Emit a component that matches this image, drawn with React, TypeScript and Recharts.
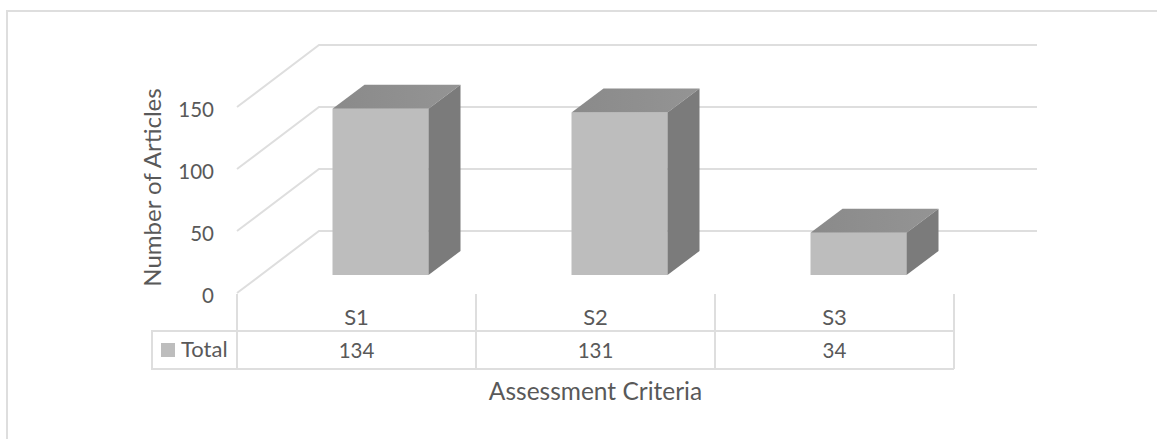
import { Bar, BarChart, CartesianGrid, Label, XAxis, YAxis } from 'recharts';

const categories = ['S1', 'S2', 'S3'];
const totals = [134, 131, 34];
const valueTicks = [0, 50, 100, 150];
const seriesName = 'Total';

const rows = categories.map((name, i) => ({ name, total: totals[i] }));

const WIDTH = 1157;
const HEIGHT = 439;
const FONT = 'Lato, "Open Sans", sans-serif';
const TEXT = '#595959';
const LINE = '#dedede';

// table under the plot
const CELL_W = 239;
const FLOOR_Y = 293;
const TABLE_TOP = 331;
const TABLE_BOTTOM = 369;
const KEY_LEFT = 152;

// floor and back wall projection
const WALL_DX = 82;
const WALL_DY = 62;
const WALL_RIGHT = 1037;

// where a box stands on the floor, and how deep it is
const BOX_DX = 23.5;
const BOX_DY = 18;
const DEPTH_X = 32;
const DEPTH_Y = 24;

function WallLine(props: any) {
  const { x1, y1 } = props;
  const backX = x1 + WALL_DX;
  const backY = y1 - WALL_DY;
  return (
    <path
      key={`wall-${y1}`}
      d={`M${x1},${y1} L${backX},${backY} L${WALL_RIGHT},${backY}`}
      fill="none"
      stroke={LINE}
      strokeWidth={2}
    />
  );
}

function Box(props: any) {
  const { width, height } = props;
  const x = props.x + BOX_DX;
  const y = props.y - BOX_DY;
  const right = x + width;
  const bottom = y + height;
  return (
    <g>
      <rect x={x} y={y} width={width} height={height} fill="#bdbdbd" />
      <polygon
        points={`${x},${y} ${x + DEPTH_X},${y - DEPTH_Y} ${right + DEPTH_X},${y - DEPTH_Y} ${right},${y}`}
        fill="url(#boxTop)"
      />
      <polygon
        points={`${right},${y} ${right + DEPTH_X},${y - DEPTH_Y} ${right + DEPTH_X},${bottom - DEPTH_Y} ${right},${bottom}`}
        fill="#7b7b7b"
      />
    </g>
  );
}

function TableCell(props: any) {
  const { x, index, payload } = props;
  const left = x - CELL_W / 2;
  const right = x + CELL_W / 2;
  const labelStyle = { fontFamily: FONT, fontSize: 22, fill: TEXT };
  const numberStyle = { fontFamily: FONT, fontSize: 20.5, fill: TEXT };
  return (
    <g>
      {index === 0 && (
        <g>
          <line x1={left} y1={FLOOR_Y + 1} x2={left} y2={TABLE_BOTTOM} stroke={LINE} strokeWidth={2} />
          <path
            d={`M${left},${TABLE_TOP} L${KEY_LEFT},${TABLE_TOP} L${KEY_LEFT},${TABLE_BOTTOM} L${left},${TABLE_BOTTOM}`}
            fill="none"
            stroke={LINE}
            strokeWidth={2}
          />
          <rect x={left - 76} y={343} width={14} height={14} fill="#bdbdbd" />
          <text x={left - 56} y={357} {...labelStyle}>
            {seriesName}
          </text>
        </g>
      )}
      <line x1={right} y1={FLOOR_Y + 1} x2={right} y2={TABLE_BOTTOM} stroke={LINE} strokeWidth={2} />
      <line x1={left} y1={TABLE_TOP} x2={right} y2={TABLE_TOP} stroke={LINE} strokeWidth={2} />
      <line x1={left} y1={TABLE_BOTTOM} x2={right} y2={TABLE_BOTTOM} stroke={LINE} strokeWidth={2} />
      <text x={x} y={325} textAnchor="middle" {...labelStyle}>
        {payload.value}
      </text>
      <text x={x} y={358} textAnchor="middle" {...numberStyle}>
        {totals[index]}
      </text>
    </g>
  );
}

// rotated title beside the value axis
function ValueTitle() {
  return (
    <text
      transform="translate(161,187.5) rotate(-90)"
      textAnchor="middle"
      fontFamily={FONT}
      fontSize={24}
      fill={TEXT}
    >
      Number of Articles
    </text>
  );
}

export default function App() {
  return (
    <div style={{ position: 'absolute', left: 0, top: 0, width: WIDTH, height: HEIGHT, background: '#fff', overflow: 'hidden' }}>
      <div
        style={{
          position: 'absolute',
          left: 6,
          top: 10,
          right: 0,
          bottom: 0,
          borderLeft: `2px solid ${LINE}`,
          borderTop: `2px solid ${LINE}`,
        }}
      />
      <BarChart
        width={WIDTH}
        height={HEIGHT}
        data={rows}
        margin={{ top: 107, right: 203, bottom: 0, left: 0 }}
        style={{ position: 'absolute', left: 0, top: 0 }}
      >
        <defs>
          <linearGradient id="boxTop" x1="0" y1="0" x2="1" y2="0">
            <stop offset="0%" stopColor="#8a8a8a" />
            <stop offset="100%" stopColor="#949494" />
          </linearGradient>
        </defs>
        <CartesianGrid vertical={false} horizontal={WallLine} />
        <XAxis
          dataKey="name"
          height={146}
          interval={0}
          axisLine={false}
          tickLine={false}
          tick={TableCell}
          label={{
            value: 'Assessment Criteria',
            position: 'insideBottom',
            offset: 39,
            style: { fontFamily: FONT, fontSize: 24.5, fill: TEXT },
          }}
        />
        <YAxis
          width={237}
          domain={[0, 150]}
          ticks={valueTicks}
          axisLine={false}
          tickLine={false}
          tickSize={0}
          tickMargin={23}
          tick={{ fontFamily: FONT, fontSize: 20.5, fill: TEXT, dy: 3 }}
        >
          <Label content={ValueTitle} />
        </YAxis>
        <Bar dataKey="total" barSize={96} shape={Box} isAnimationActive={false} />
      </BarChart>
    </div>
  );
}
